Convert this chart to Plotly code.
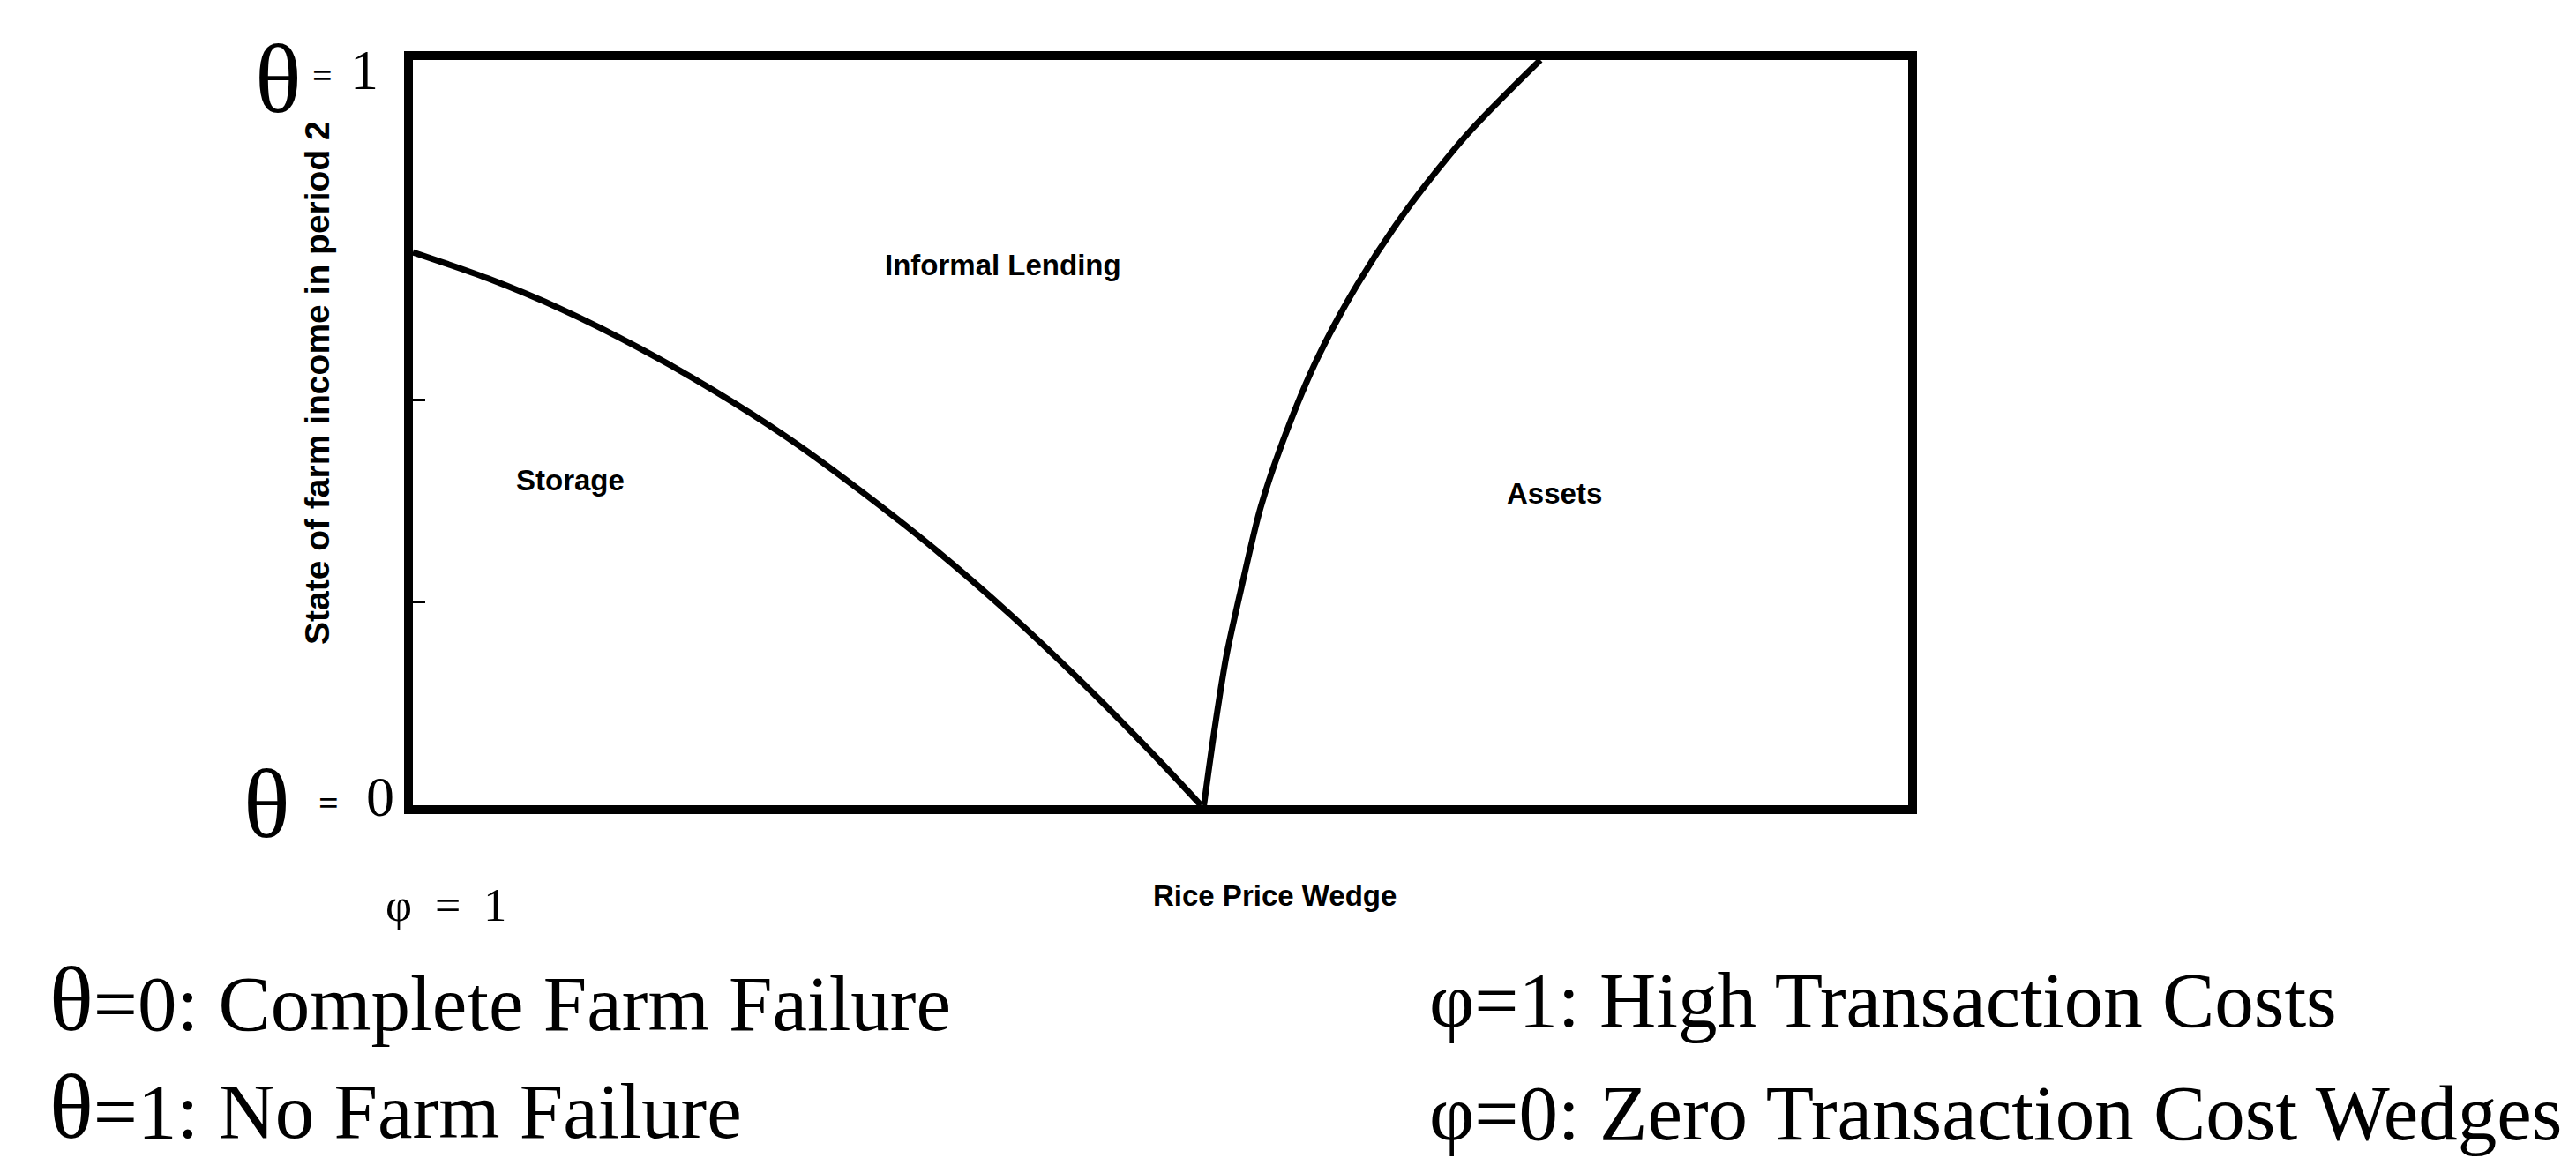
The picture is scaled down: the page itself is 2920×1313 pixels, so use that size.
import plotly.graph_objects as go

# ---- data (x: 0 = left edge "phi = 1", 1 = right edge; y: 0 = theta 0, 1 = theta 1)
storage_lending_x = [0.0, 0.05, 0.10, 0.15, 0.20, 0.25, 0.30, 0.35, 0.40, 0.45, 0.50, 0.527]
storage_lending_y = [0.742, 0.707, 0.665, 0.615, 0.558, 0.494, 0.421, 0.342, 0.255, 0.160, 0.058, 0.0]
lending_assets_x = [0.529, 0.536, 0.544, 0.555, 0.567, 0.584, 0.605, 0.632, 0.665, 0.705, 0.754]
lending_assets_y = [0.0, 0.1, 0.2, 0.3, 0.4, 0.5, 0.6, 0.7, 0.8, 0.9, 1.0]
region_labels = ["Storage", "Informal Lending", "Assets"]
y_tick_vals = [0.273, 0.544]
y_title = "State of farm income in period 2"
x_title = "Rice Price Wedge"
legend_left = ["=0: Complete Farm Failure", "=1: No Farm Failure"]
legend_right = ["φ=1: High Transaction Costs", "φ=0: Zero Transaction Cost Wedges"]

W, H = 2920, 1313
L, R, T, B = 460, 765, 60, 408
PW, PH = W - L - R, H - T - B


def px(X):
    return (X - L) / PW


def py(Y):
    return (H - B - Y) / PH


SANS = "Liberation Sans, Arial, sans-serif"
SERIF = "Liberation Serif, Times New Roman, serif"

fig = go.Figure()
fig.add_trace(go.Scatter(x=storage_lending_x, y=storage_lending_y, mode="lines",
                         line=dict(color="black", width=7, shape="spline", smoothing=0.8),
                         showlegend=False, hoverinfo="skip"))
fig.add_trace(go.Scatter(x=lending_assets_x, y=lending_assets_y, mode="lines",
                         line=dict(color="black", width=7, shape="spline", smoothing=0.8),
                         showlegend=False, hoverinfo="skip"))

ann = []


def add(text, X, Y, size, family=SANS, xanchor="center", yanchor="middle", angle=0):
    ann.append(dict(text=text, x=px(X), y=py(Y), xref="paper", yref="paper",
                    showarrow=False, xanchor=xanchor, yanchor=yanchor, textangle=angle,
                    font=dict(family=family, size=size, color="black")))


# region labels
region_pos = [(638, 536), (1129, 292), (1754, 551)]
for lab, (X, Y) in zip(region_labels, region_pos):
    add("<b>" + lab + "</b>", X, Y, 33)

# axis titles
add("<b>" + y_title + "</b>", 352, 426, 39, angle=-90)
add("<b>" + x_title + "</b>", 1577, 1007, 33, xanchor="right")
add("φ\u00a0\u00a0=\u00a0\u00a01", 497, 1018, 52, family=SERIF)

# theta corner labels
add("θ", 307, 82, 110, family=SERIF)
add("<b>=</b>", 357, 78, 40, family=SERIF)
add("1", 405, 72, 64, family=SERIF)
add("θ", 294, 904, 110, family=SERIF)
add("<b>=</b>", 364, 902, 40, family=SERIF)
add("0", 423, 895, 64, family=SERIF)

# bottom explanation lines
big_theta = '<span style="font-size:104px">θ</span>'
add(big_theta + legend_left[0], 46, 1124, 89, family=SERIF, xanchor="left")
add(big_theta + legend_left[1], 46, 1246, 89, family=SERIF, xanchor="left")
add(legend_right[0], 1610, 1126, 89, family=SERIF, xanchor="left")
add(legend_right[1], 1610, 1254, 89, family=SERIF, xanchor="left")

fig.update_layout(
    width=W, height=H,
    margin=dict(l=L, r=R, t=T, b=B, pad=0),
    paper_bgcolor="white", plot_bgcolor="white",
    annotations=ann,
    xaxis=dict(range=[0, 1], showgrid=False, zeroline=False, showline=True, mirror=True,
               linewidth=10, linecolor="black", ticks="", showticklabels=False, fixedrange=True),
    yaxis=dict(range=[0, 1], showgrid=False, zeroline=False, showline=True, mirror=False,
               linewidth=10, linecolor="black", tickvals=y_tick_vals, ticks="inside",
               ticklen=14, tickwidth=3, tickcolor="black", showticklabels=False, fixedrange=True),
    yaxis2=dict(overlaying="y", side="right", range=[0, 1], showgrid=False,
                zeroline=False, showline=True, linewidth=10, linecolor="black",
                ticks="", showticklabels=False, fixedrange=True),
)
fig.add_trace(go.Scatter(x=[None], y=[None], yaxis="y2", showlegend=False, hoverinfo="skip"))

fig.write_html("out.html")
